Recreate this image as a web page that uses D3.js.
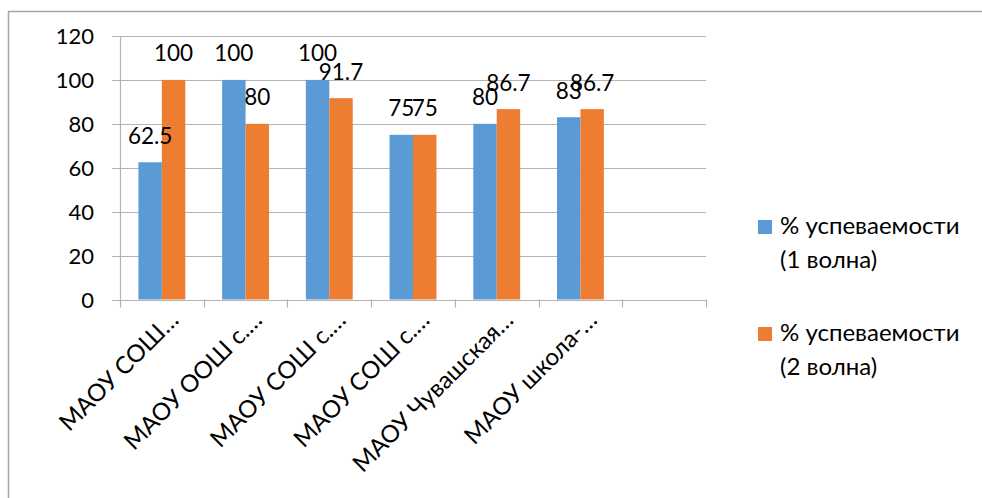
<!DOCTYPE html>
<html>
<head>
<meta charset="utf-8">
<script src="https://cdn.jsdelivr.net/npm/d3@7"></script>
<style>
  html, body { margin: 0; padding: 0; background: #fff; }
  svg { display: block; }
  text { font-family: Lato, "Open Sans", sans-serif; fill: #000; }
</style>
</head>
<body>
<svg id="chart" width="982" height="498"></svg>
<script>
// ---- data ----
const categories = ["МАОУ СОШ…", "МАОУ ООШ с.…", "МАОУ СОШ с.…", "МАОУ СОШ с.…", "МАОУ Чувашская…", "МАОУ школа-…", ""];
const wave1 = [62.5, 100, 100, 75, 80, 83];
const wave2 = [100, 80, 91.7, 75, 86.7, 86.7];
const seriesNames = ["% успеваемости (1 волна)", "% успеваемости (2 волна)"];
const legendLines = [["% успеваемости", "(1 волна)"], ["% успеваемости", "(2 волна)"]];
const yTicks = [0, 20, 40, 60, 80, 100, 120];
const colors = ["#5B9BD5", "#ED7D31"];

const svg = d3.select("#chart");

// outer frame
svg.append("rect")
  .attr("x", 8.5).attr("y", 11.5)
  .attr("width", 1000).attr("height", 600)
  .attr("fill", "none").attr("stroke", "#a6a6a6").attr("stroke-width", 1.5);

const pLeft = 120, pRight = 706, pTop = 36, pBottom = 299.5;

const x0 = d3.scaleBand().domain(d3.range(categories.length)).range([pLeft, pRight]).padding(0);
const x1 = d3.scaleBand().domain([0, 1]).range([x0.bandwidth() * 0.22, x0.bandwidth() * 0.78]).padding(0);
const y = d3.scaleLinear().domain([0, 120]).range([pBottom, pTop]);

// gridlines
svg.append("g").selectAll("line").data(yTicks).join("line")
  .attr("x1", pLeft - 8).attr("x2", pRight)
  .attr("y1", d => Math.round(y(d)) + 0.5).attr("y2", d => Math.round(y(d)) + 0.5)
  .attr("stroke", "#b3b3b3").attr("stroke-width", 1.2);

// y axis line
svg.append("line")
  .attr("x1", pLeft + 0.5).attr("x2", pLeft + 0.5)
  .attr("y1", pTop).attr("y2", pBottom)
  .attr("stroke", "#b3b3b3").attr("stroke-width", 1.2);

// y labels
svg.append("g").selectAll("text").data(yTicks).join("text")
  .attr("x", 94).attr("y", d => y(d) + 8)
  .attr("text-anchor", "end")
  .attr("font-size", 22)
  .text(d => d);

// x axis ticks
svg.append("g").selectAll("line").data(d3.range(categories.length + 1)).join("line")
  .attr("x1", i => Math.round(pLeft + i * x0.bandwidth()) + 0.5)
  .attr("x2", i => Math.round(pLeft + i * x0.bandwidth()) + 0.5)
  .attr("y1", pBottom).attr("y2", pBottom + 8)
  .attr("stroke", "#b3b3b3").attr("stroke-width", 1.2);

// bars
const series = [wave1, wave2];
series.forEach((vals, s) => {
  svg.append("g").selectAll("rect").data(vals).join("rect")
    .attr("x", (d, i) => x0(i) + x1(s))
    .attr("width", x1.bandwidth())
    .attr("y", d => y(d))
    .attr("height", d => pBottom - y(d))
    .attr("fill", colors[s]);
});

// bottom axis line redrawn over bars
svg.append("line")
  .attr("x1", pLeft - 8).attr("x2", pRight)
  .attr("y1", Math.round(pBottom) + 0.5).attr("y2", Math.round(pBottom) + 0.5)
  .attr("stroke", "#b3b3b3").attr("stroke-width", 1.2);

// data labels
series.forEach((vals, s) => {
  svg.append("g").selectAll("text").data(vals).join("text")
    .attr("x", (d, i) => x0(i) + x1(s) + x1.bandwidth() / 2)
    .attr("y", d => y(d) - 18.5)
    .attr("text-anchor", "middle")
    .attr("font-size", 22.5)
    .text(d => d);
});

// category labels rotated
svg.append("g").selectAll("text").data(categories).join("text")
  .attr("text-anchor", "end")
  .attr("font-size", 24)
  .attr("transform", (d, i) => `translate(${x0(i) + x0.bandwidth() / 2 + 18},${pBottom + 22}) rotate(-45)`)
  .text(d => d);

// legend
const legendY = [234, 341];
legendLines.forEach((lines, s) => {
  const g = svg.append("g");
  g.append("rect")
    .attr("x", 758).attr("y", legendY[s] - 14)
    .attr("width", 14).attr("height", 14)
    .attr("fill", colors[s]);
  lines.forEach((ln, k) => {
    g.append("text")
      .attr("x", 780).attr("y", legendY[s] + k * 33.5)
      .attr("font-size", 24)
      .text(ln);
  });
});
</script>
</body>
</html>
